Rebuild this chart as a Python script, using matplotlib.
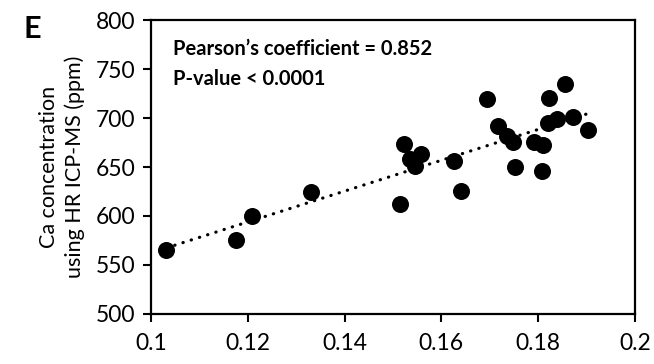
import numpy as np
import matplotlib.pyplot as plt

# ratio values (x) vs Ca by HR ICP-MS (y)
ratio = [0.1032, 0.1175, 0.1209, 0.1330, 0.1515, 0.1522, 0.1535, 0.1557,
         0.1545, 0.1627, 0.1641, 0.1694, 0.1717, 0.1736, 0.1747, 0.1752,
         0.1791, 0.1809, 0.1808, 0.1821, 0.1822, 0.1838, 0.1855, 0.1871,
         0.1902]
ca_ppm = [565, 576, 600, 625, 612, 673, 658, 663, 651, 656, 626, 719, 692,
          682, 676, 650, 676, 672, 646, 695, 720, 699, 735, 701, 688]
x_ticks = [0.1, 0.12, 0.14, 0.16, 0.18, 0.2]
x_tick_labels = ['0.1', '0.12', '0.14', '0.16', '0.18', '0.2']
y_ticks = [500, 550, 600, 650, 700, 750, 800]

plt.rcParams['font.family'] = ['Lato', 'DejaVu Sans']

fig = plt.figure(figsize=(6.54, 3.64), dpi=100)
ax = fig.add_axes([0.2309, 0.1374, 0.7401, 0.8076])

ax.scatter(ratio, ca_ppm, s=150, color='black', zorder=3, linewidths=0)

# linear trendline over the data range
k, b = np.polyfit(ratio, ca_ppm, 1)
xs = np.array([min(ratio), max(ratio)])
ax.plot(xs, k * xs + b, color='black', linestyle=(0, (0.1, 2.6)),
        linewidth=2.3, dash_capstyle='round', zorder=2)

ax.set_xlim(0.1, 0.2)
ax.set_ylim(500, 800)
ax.set_xticks(x_ticks)
ax.set_xticklabels(x_tick_labels)
ax.set_yticks(y_ticks)
ax.tick_params(direction='out', length=6, width=1.5, labelsize=16.5, pad=5)
ax.tick_params(axis='x', pad=8)
for sp in ax.spines.values():
    sp.set_linewidth(1.6)

ax.set_ylabel('Ca concentration\nusing HR ICP-MS (ppm)', fontsize=15.5,
              labelpad=8, linespacing=1.3)

ax.text(0.045, 0.9, 'Pearson\u2019s coefficient = 0.852', transform=ax.transAxes,
        fontsize=14.5, fontweight='bold', va='center')
ax.text(0.045, 0.8, 'P-value < 0.0001', transform=ax.transAxes,
        fontsize=14.5, fontweight='bold', va='center')

fig.text(0.05, 0.92, 'E', fontsize=22, fontweight='bold', va='center',
         ha='center')

fig.savefig('out.png', dpi=100)
